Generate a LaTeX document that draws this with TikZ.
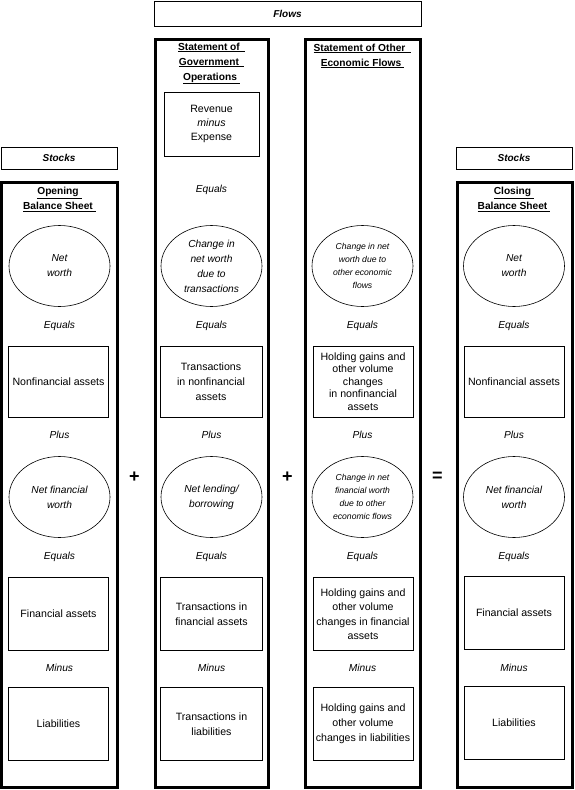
\documentclass[tikz,border=0pt]{standalone}
\usepackage{fontspec}
\setmainfont{Liberation Sans}
\usetikzlibrary{shapes.geometric}
\begin{document}
\begin{tikzpicture}[x=1pt,y=-1pt,
  colbox/.style={draw, line width=3pt, inner sep=0pt},
  hdrbox/.style={draw, line width=0.7pt, inner sep=0pt, font=\fontsize{10}{12}\selectfont\bfseries\itshape},
  itembox/.style={draw, line width=0.7pt, inner sep=0pt, minimum width=100pt, align=center, font=\fontsize{10.6}{15}\selectfont},
  ell/.style={ellipse, draw, line width=0.6pt, inner sep=0pt, minimum width=101pt, minimum height=81pt, align=center, font=\fontsize{10.2}{15}\selectfont\itshape},
  smallell/.style={ell, font=\fontsize{8.6}{13}\selectfont\itshape},
  word/.style={font=\fontsize{10.2}{12}\selectfont\itshape},
  head/.style={align=center, font=\fontsize{10.2}{15}\selectfont\bfseries},
  op/.style={font=\fontsize{18}{18}\selectfont\bfseries}]

\useasboundingbox (0,0) rectangle (574,790);
\fill[white] (0,0) rectangle (574,790);

% top labels
\node[hdrbox, minimum width=267pt, minimum height=25pt] (flows) at (287.5,13.5) {Flows};
\node[hdrbox, minimum width=116pt, minimum height=22pt] (stocksL) at (59,158) {Stocks};
\node[hdrbox, minimum width=116pt, minimum height=22pt] (stocksR) at (514,158) {Stocks};

% columns
\node[colbox, minimum width=116pt, minimum height=605pt] (col1) at (59.5,485) {};
\node[colbox, minimum width=113.5pt, minimum height=748pt] (col2) at (211.75,413.5) {};
\node[colbox, minimum width=114.5pt, minimum height=748pt] (col3) at (362.75,413.5) {};
\node[colbox, minimum width=114.5pt, minimum height=605pt] (col4) at (514.75,485) {};

% headers
\node[head] (h1) at (59.5,199.5) {\underline{Opening\hspace{3pt}}\\\underline{Balance Sheet\hspace{3pt}}};
\node[head] (h2) at (211.5,63.5) {\underline{Statement of\hspace{5pt}}\\\underline{Government\hspace{5pt}}\\\underline{Operations\hspace{3pt}}};
\node[head] (h3) at (362.5,56) {\underline{Statement of Other\hspace{6pt}}\\\underline{Economic Flows\hspace{3pt}}};
\node[head] (h4) at (514,199.5) {\underline{Closing\hspace{3pt}}\\\underline{Balance Sheet\hspace{3pt}}};

% revenue box
\node[itembox, minimum width=95pt, minimum height=64pt, font=\fontsize{10.6}{14}\selectfont] (rev) at (211.5,124) {Revenue\\\textit{minus}\\Expense};
\node[word] (eq0) at (211.5,190) {Equals};

% row 1 ellipses
\node[ell] (e11) at (59.5,266) {Net\\worth};
\node[ell] (e12) at (211.5,266) {Change in\\net worth\\due to\\transactions};
\node[smallell] (e13) at (362.5,266) {Change in net\\worth due to\\other economic\\flows};
\node[ell] (e14) at (514,266) {Net\\worth};

\foreach \x/\n in {59.5/1,211.5/2,362.5/3,514/4}{
  \node[word] (eqa\n) at (\x,326) {Equals};
  \node[word] (plus\n) at (\x,435) {Plus};
  \node[word] (eqb\n) at (\x,557) {Equals};
  \node[word] (minus\n) at (\x,668) {Minus};
}

% row 1 boxes
\node[itembox, minimum height=71pt] (b11) at (58.5,381.5) {Nonfinancial assets};
\node[itembox, minimum width=102pt, minimum height=71pt] (b12) at (211,381.5) {Transactions\\in nonfinancial\\assets};
\node[itembox, minimum height=71pt, font=\fontsize{10.6}{12.5}\selectfont] (b13) at (363,381.5) {Holding gains and\\other volume\\changes\\in nonfinancial\\assets};
\node[itembox, minimum height=71pt] (b14) at (514,381.5) {Nonfinancial assets};

% row 2 ellipses
\node[ell] (e21) at (59.5,497) {Net financial\\worth};
\node[ell] (e22) at (211.5,497) {Net lending/\\borrowing};
\node[smallell] (e23) at (362.5,497) {Change in net\\financial worth\\due to other\\economic flows};
\node[ell] (e24) at (514,497) {Net financial\\worth};

% operators
\node[op] (opA) at (134.5,477) {+};
\node[op] (opB) at (287.5,477) {+};
\node[op] (opC) at (437.5,477) {=};

% row 2 boxes
\node[itembox, minimum height=73pt] (b21) at (58.5,613.5) {Financial assets};
\node[itembox, minimum width=102pt, minimum height=73pt] (b22) at (211.5,614) {Transactions in\\financial assets};
\node[itembox, minimum height=73pt, font=\fontsize{10.6}{14.5}\selectfont] (b23) at (363,614) {Holding gains and\\other volume\\changes in financial\\assets};
\node[itembox, minimum height=73pt] (b24) at (514,613) {Financial assets};

% row 3 boxes
\node[itembox, minimum height=73pt] (b31) at (58.5,723.5) {Liabilities};
\node[itembox, minimum width=102pt, minimum height=73pt] (b32) at (211.5,724) {Transactions in\\liabilities};
\node[itembox, minimum height=73pt] (b33) at (363,724) {Holding gains and\\other volume\\changes in liabilities};
\node[itembox, minimum height=73pt] (b34) at (514,723) {Liabilities};

\end{tikzpicture}
\end{document}
